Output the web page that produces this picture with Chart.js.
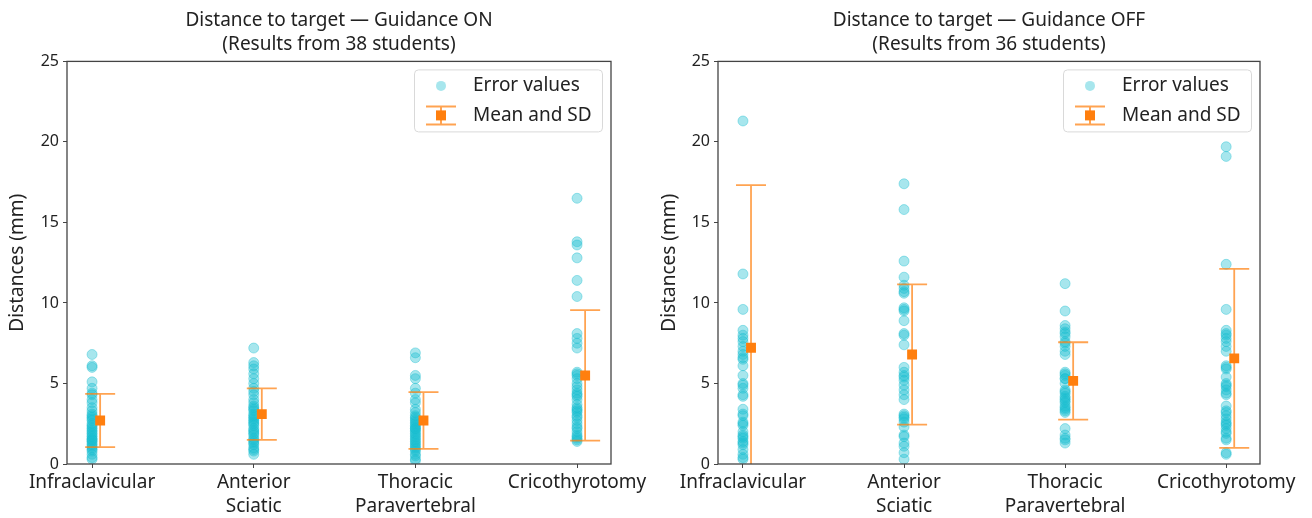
<!DOCTYPE html>
<html>
<head>
<meta charset="utf-8">
<script src="https://cdn.jsdelivr.net/npm/chart.js@4.4.1/dist/chart.umd.min.js"></script>
<style>
    html, body { margin: 0; padding: 0; background: #fff; }
    #wrap { display: flex; width: 1312px; height: 518px; }
    canvas { display: block; }
</style>
</head>
<body>
<div id="wrap">
    <canvas id="chart-on" width="656" height="518"></canvas>
    <canvas id="chart-off" width="656" height="518"></canvas>
</div>
<script>
const categories = [
    ['Infraclavicular'],
    ['Anterior', 'Sciatic'],
    ['Thoracic', 'Paravertebral'],
    ['Cricothyrotomy'],
];
const yTicks = [0, 5, 10, 15, 20, 25];

// Guidance ON (38 students)
const onInfraclavicular = [6.8, 6.1, 6.0, 5.1, 4.7, 4.4, 4.3, 4.0, 3.8, 3.5, 3.3, 3.1, 3.0, 2.9, 2.8, 2.7, 2.5, 2.4, 2.3, 2.2,
    2.1, 2.0, 1.9, 1.8, 1.7, 1.6, 1.5, 1.5, 1.4, 1.3, 1.2, 1.1, 1.0, 0.9, 0.8, 0.6, 0.4, 0.3];
const onSciatic = [7.2, 6.3, 6.1, 5.9, 5.6, 5.3, 5.0, 4.7, 4.5, 4.3, 4.0, 3.8, 3.6, 3.5, 3.4, 3.3, 3.1, 3.0, 2.9, 2.8,
    2.7, 2.6, 2.5, 2.4, 2.2, 2.1, 2.0, 1.9, 1.8, 1.6, 1.5, 1.4, 1.3, 1.2, 1.0, 0.9, 0.8, 0.6];
const onThoracic = [6.9, 6.6, 5.5, 5.3, 4.7, 4.4, 4.0, 3.8, 3.4, 3.2, 3.0, 2.9, 2.8, 2.7, 2.6, 2.5, 2.4, 2.3, 2.2, 2.2,
    2.1, 2.0, 1.9, 1.8, 1.7, 1.6, 1.5, 1.4, 1.3, 1.2, 1.1, 1.0, 0.9, 0.8, 0.6, 0.5, 0.3, 0.2];
const onCrico = [16.5, 13.8, 13.6, 12.8, 11.4, 10.4, 8.1, 7.8, 7.5, 7.2, 5.6, 5.5, 5.3, 5.0, 4.8, 4.6, 4.4, 4.3, 4.2, 4.0,
    3.7, 3.5, 3.4, 3.3, 3.2, 3.0, 2.9, 2.7, 2.5, 2.3, 2.2, 2.0, 1.8, 1.7, 1.6, 1.5, 1.4, 5.7];
const onMeans = [2.7, 3.1, 2.7, 5.5];
const onSd = [1.65, 1.6, 1.76, 4.05];

// Guidance OFF (36 students)
const offInfraclavicular = [21.3, 11.8, 9.6, 8.3, 8.0, 7.8, 7.6, 7.3, 7.0, 6.8, 6.6, 6.5, 6.1, 5.5, 4.9, 4.7, 4.3, 4.2,
    3.4, 3.1, 3.0, 2.5, 2.4, 2.0, 1.8, 1.7, 1.6, 1.4, 1.3, 1.2, 0.9, 0.6, 0.4, 0.3, 5.0, 2.6];
const offSciatic = [17.4, 15.8, 12.6, 11.6, 11.1, 10.9, 10.6, 9.6, 9.5, 8.9, 8.1, 8.0, 7.4, 6.0, 5.7, 5.5, 5.2, 4.9,
    4.6, 4.3, 4.0, 3.1, 2.9, 2.8, 2.6, 2.3, 1.8, 1.7, 1.3, 1.1, 0.7, 0.3, 10.7, 9.7, 5.4, 3.0];
const offThoracic = [11.2, 9.5, 8.6, 8.4, 8.2, 7.9, 7.6, 7.3, 7.0, 6.8, 5.7, 5.5, 5.3, 5.3, 4.5, 4.4, 4.2, 4.0,
    3.8, 3.6, 3.4, 3.3, 3.2, 2.2, 1.8, 1.5, 1.3, 5.6, 4.6, 3.9, 7.5, 8.1, 4.1, 3.5, 5.0, 1.6];
const offCrico = [19.7, 19.1, 12.4, 9.6, 8.3, 8.1, 7.8, 7.6, 7.3, 6.1, 6.0, 5.9, 5.0, 4.8, 4.6, 4.4, 4.3, 3.3,
    3.0, 2.8, 2.6, 2.4, 2.2, 2.0, 1.6, 1.5, 0.6, 0.7, 7.0, 5.4, 3.6, 3.2, 2.5, 1.9, 8.0, 4.9];
const offMeans = [7.22, 6.8, 5.16, 6.56];
const offSd = [10.1, 4.35, 2.4, 5.56];

const font = 'Noto Sans';
const text = '#222';
const axisColor = '#444';
const dotColor = 'rgba(23, 190, 207, 0.38)';
const meanColor = '#ff7f0e';
const barColor = 'rgba(255, 127, 14, 0.72)';
const MEAN_OFFSET = 0.05;
const CAP = 15;

function drawErrorGlyph(ctx, cx, cy, half) {
    ctx.strokeStyle = barColor;
    ctx.lineWidth = 2;
    ctx.beginPath();
    ctx.moveTo(cx, cy - half);
    ctx.lineTo(cx, cy + half);
    ctx.moveTo(cx - CAP, cy - half);
    ctx.lineTo(cx + CAP, cy - half);
    ctx.moveTo(cx - CAP, cy + half);
    ctx.lineTo(cx + CAP, cy + half);
    ctx.stroke();
}

const errorBars = {
    id: 'errorBars',
    beforeDatasetDraw(chart, args) {
        const ds = chart.data.datasets[args.index];
        if (!ds.sd) {
            return;
        }
        const { ctx, chartArea, scales } = chart;
        ctx.save();
        ctx.beginPath();
        ctx.rect(chartArea.left, chartArea.top, chartArea.width, chartArea.height);
        ctx.clip();
        ctx.strokeStyle = barColor;
        ctx.lineWidth = 1.8;
        ds.data.forEach((p, i) => {
            const px = scales.x.getPixelForValue(p.x);
            const top = scales.y.getPixelForValue(p.y + ds.sd[i]);
            const bot = scales.y.getPixelForValue(p.y - ds.sd[i]);
            ctx.beginPath();
            ctx.moveTo(px, top);
            ctx.lineTo(px, bot);
            ctx.moveTo(px - CAP, top);
            ctx.lineTo(px + CAP, top);
            ctx.moveTo(px - CAP, bot);
            ctx.lineTo(px + CAP, bot);
            ctx.stroke();
        });
        ctx.restore();
    },
};

const frameAndLegend = {
    id: 'frameAndLegend',
    afterDraw(chart) {
        const { ctx, chartArea } = chart;
        ctx.save();
        ctx.strokeStyle = axisColor;
        ctx.lineWidth = 1.3;
        ctx.strokeRect(chartArea.left, chartArea.top, chartArea.width, chartArea.height);

        // legend box, upper right inside the axes
        const w = 188;
        const h = 62;
        const left = chartArea.right - 9 - w;
        const top = chartArea.top + 8;
        ctx.fillStyle = 'rgba(255,255,255,0.85)';
        ctx.strokeStyle = '#d9d9d9';
        ctx.lineWidth = 1;
        ctx.beginPath();
        ctx.roundRect(left + 0.5, top + 0.5, w, h, 4);
        ctx.fill();
        ctx.stroke();

        const sx = left + 27;
        const row1 = top + 16.5;
        const row2 = top + 46;
        ctx.fillStyle = dotColor;
        ctx.beginPath();
        ctx.arc(sx, row1, 5, 0, Math.PI * 2);
        ctx.fill();

        drawErrorGlyph(ctx, sx, row2, 9);
        ctx.fillStyle = meanColor;
        ctx.fillRect(sx - 5, row2 - 5, 10, 10);

        ctx.fillStyle = text;
        ctx.font = `19px "${font}"`;
        ctx.textBaseline = 'middle';
        ctx.textAlign = 'left';
        const labels = chart.data.datasets.map((d) => d.label);
        ctx.fillText(labels[0], left + 59, row1);
        ctx.fillText(labels[1], left + 59, row2);
        ctx.restore();
    },
};

function buildChart(id, titleLines, groups, means, sds, axisWidth, rightPad, yTitleGap) {
    const points = [];
    groups.forEach((vals, i) => {
        vals.forEach((v) => points.push({ x: i, y: v }));
    });

    return new Chart(document.getElementById(id), {
        type: 'scatter',
        data: {
            datasets: [
                {
                    label: 'Error values',
                    data: points,
                    backgroundColor: dotColor,
                    borderColor: dotColor,
                    borderWidth: 1,
                    pointRadius: 5,
                    order: 2,
                },
                {
                    label: 'Mean and SD',
                    data: means.map((m, i) => ({ x: i + MEAN_OFFSET, y: m })),
                    sd: sds,
                    pointStyle: 'rect',
                    pointRadius: 7,
                    backgroundColor: meanColor,
                    borderColor: meanColor,
                    borderWidth: 0,
                    order: 1,
                },
            ],
        },
        options: {
            responsive: false,
            animation: false,
            layout: { padding: { left: 0, right: rightPad, top: 0, bottom: 0 } },
            plugins: {
                legend: { display: false },
                tooltip: { enabled: false },
                title: {
                    display: true,
                    text: titleLines,
                    fullSize: false,
                    color: text,
                    font: { family: font, size: 19, weight: 'normal', lineHeight: 1.3 },
                    padding: { top: 8, bottom: 4 },
                },
            },
            scales: {
                x: {
                    type: 'linear',
                    min: -0.155,
                    max: 3.21,
                    afterBuildTicks: (s) => {
                        s.ticks = categories.map((_, i) => ({ value: i }));
                    },
                    afterFit: (s) => {
                        s.height = 54;
                    },
                    ticks: {
                        callback: (v) => categories[v],
                        autoSkip: false,
                        maxRotation: 0,
                        minRotation: 0,
                        padding: 3,
                        color: text,
                        font: { family: font, size: 19, lineHeight: 1.25 },
                    },
                    grid: { drawOnChartArea: false, tickLength: 4, color: axisColor },
                    border: { display: false },
                },
                y: {
                    min: 0,
                    max: 25,
                    afterBuildTicks: (s) => {
                        s.ticks = yTicks.map((v) => ({ value: v }));
                    },
                    afterFit: (s) => {
                        s.width = axisWidth;
                    },
                    ticks: {
                        padding: 4,
                        color: text,
                        font: { family: font, size: 16 },
                    },
                    grid: { drawOnChartArea: false, tickLength: 4, color: axisColor },
                    border: { display: false },
                    title: {
                        display: true,
                        text: 'Distances (mm)',
                        color: text,
                        font: { family: font, size: 19 },
                        padding: { top: yTitleGap, bottom: 0 },
                    },
                },
            },
        },
        plugins: [errorBars, frameAndLegend],
    });
}

buildChart('chart-on', ['Distance to target \u2014 Guidance ON', '(Results from 38 students)'],
    [onInfraclavicular, onSciatic, onThoracic, onCrico], onMeans, onSd, 67, 45, 6);
buildChart('chart-off', ['Distance to target \u2014 Guidance OFF', '(Results from 36 students)'],
    [offInfraclavicular, offSciatic, offThoracic, offCrico], offMeans, offSd, 62, 52, 2);
</script>
</body>
</html>
